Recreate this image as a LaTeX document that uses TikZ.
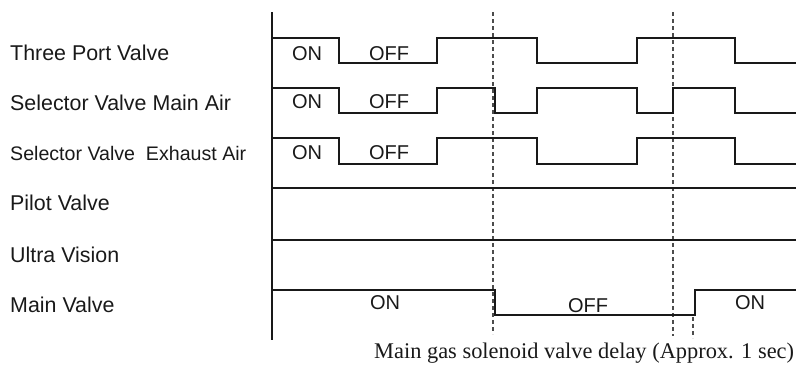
\documentclass[tikz,border=0pt]{standalone}
\usepackage{fontspec}
\setmainfont{Liberation Serif}
\setsansfont{Liberation Sans}
\begin{document}
\begin{tikzpicture}[x=1pt,y=-1pt,
  wave/.style={line width=1.6pt,black!90},
  axis/.style={line width=1.9pt,black!90},
  delay/.style={line width=1.3pt,black!70,dash pattern=on 4pt off 3pt},
  lbl/.style={anchor=base west,inner sep=0pt,font=\sffamily\fontsize{21.4}{24}\selectfont,text=black!90},
  st/.style={anchor=base,inner sep=0pt,font=\sffamily\fontsize{20}{24}\selectfont,text=black!90}]
\useasboundingbox (0,0) rectangle (796,365);
% labels
\node[lbl] (l1) at (10,60) {Three Port Valve};
\node[lbl] (l2) at (10,110) {Selector Valve Main Air};
\node[lbl,font=\sffamily\fontsize{19.6}{24}\selectfont] (l3) at (10,160) {Selector Valve\ \ Exhaust Air};
\node[lbl] (l4) at (10,210) {Pilot Valve};
\node[lbl] (l5) at (10,262) {Ultra Vision};
\node[lbl] (l6) at (10,312) {Main Valve};
% axis
\draw[axis] (272,12) -- (272,340);
% dashed delay lines
\draw[delay] (493,12) -- (493,334);
\draw[delay] (673,12) -- (673,336);
\draw[delay] (693,317) -- (693,338);
% waveforms
\draw[wave] (272,38) -- (339,38) -- (339,63) -- (437,63) -- (437,38) -- (537,38) -- (537,63) -- (637,63) -- (637,38) -- (735,38) -- (735,63) -- (796,63);
\draw[wave] (272,88) -- (339,88) -- (339,113) -- (437,113) -- (437,88) -- (495,88) -- (495,113) -- (537,113) -- (537,88) -- (637,88) -- (637,113) -- (673,113) -- (673,88) -- (735,88) -- (735,113) -- (796,113);
\draw[wave] (272,138) -- (339,138) -- (339,164) -- (437,164) -- (437,138) -- (537,138) -- (537,164) -- (637,164) -- (637,138) -- (735,138) -- (735,164) -- (796,164);
\draw[wave] (272,188) -- (796,188);
\draw[wave] (272,240) -- (796,240);
\draw[wave] (272,290) -- (495,290) -- (495,315) -- (695,315) -- (695,290) -- (796,290);
% state texts
\node[st] (on1) at (307,60) {ON};
\node[st] (off1) at (389,60) {OFF};
\node[st] (on2) at (307,108) {ON};
\node[st] (off2) at (389,108) {OFF};
\node[st] (on3) at (307,159) {ON};
\node[st] (off3) at (389,159) {OFF};
\node[st] (on6) at (385,309) {ON};
\node[st] (off6) at (588,312) {OFF};
\node[st] (on6b) at (750,309) {ON};
% bottom caption
\node[anchor=base west,inner sep=0pt,font=\fontsize{22.4}{26}\selectfont,text=black!90] (cap) at (374,358) {Main gas solenoid valve delay (Approx. 1 sec)};
\end{tikzpicture}
\end{document}
